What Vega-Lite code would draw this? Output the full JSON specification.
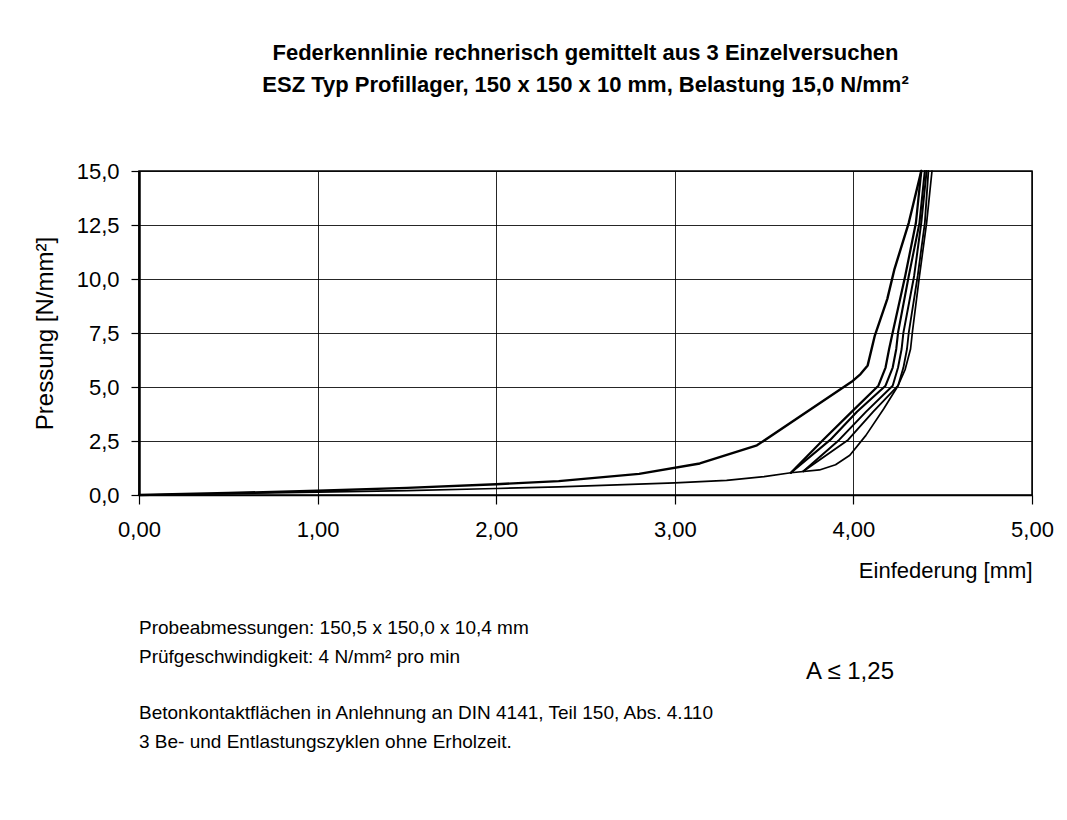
{
  "$schema": "https://vega.github.io/schema/vega-lite/v6.json",
  "background": "white",
  "padding": {"left": 32, "top": 41, "right": 5, "bottom": 5},
  "config": {
    "locale": {"number": {"decimal": ",", "thousands": ".", "grouping": [3], "currency": ["", " €"]}},
    "font": "Liberation Sans",
    "view": {"stroke": null}
  },
  "bounds": "flush",
  "spacing": 115,
  "vconcat": [
    {
      "width": 893,
      "height": 324,
      "title": {
        "text": ["Federkennlinie rechnerisch gemittelt aus 3 Einzelversuchen", "ESZ Typ Profillager, 150 x 150 x 10 mm, Belastung 15,0 N/mm²"],
        "fontSize": 22,
        "fontWeight": "bold",
        "font": "Liberation Sans",
        "lineHeight": 32,
        "anchor": "middle",
        "offset": 63,
        "color": "black"
      },
      "view": {"stroke": "black", "strokeWidth": 1.5},
      "data": {"values": [
        {"kurve": "Belastung 1", "i": 0, "einfederung": 0.0, "pressung": 0.0},
        {"kurve": "Belastung 1", "i": 1, "einfederung": 0.5, "pressung": 0.06},
        {"kurve": "Belastung 1", "i": 2, "einfederung": 1.0, "pressung": 0.13},
        {"kurve": "Belastung 1", "i": 3, "einfederung": 1.5, "pressung": 0.2},
        {"kurve": "Belastung 1", "i": 4, "einfederung": 2.0, "pressung": 0.3},
        {"kurve": "Belastung 1", "i": 5, "einfederung": 2.35, "pressung": 0.38},
        {"kurve": "Belastung 1", "i": 6, "einfederung": 3.0, "pressung": 0.56},
        {"kurve": "Belastung 1", "i": 7, "einfederung": 3.29, "pressung": 0.68},
        {"kurve": "Belastung 1", "i": 8, "einfederung": 3.5, "pressung": 0.85},
        {"kurve": "Belastung 1", "i": 9, "einfederung": 3.65, "pressung": 1.03},
        {"kurve": "Belastung 1", "i": 10, "einfederung": 3.81, "pressung": 1.16},
        {"kurve": "Belastung 1", "i": 11, "einfederung": 3.9, "pressung": 1.4},
        {"kurve": "Belastung 1", "i": 12, "einfederung": 3.98, "pressung": 1.84},
        {"kurve": "Belastung 1", "i": 13, "einfederung": 4.07, "pressung": 2.76},
        {"kurve": "Belastung 1", "i": 14, "einfederung": 4.17, "pressung": 3.99},
        {"kurve": "Belastung 1", "i": 15, "einfederung": 4.25, "pressung": 5.06},
        {"kurve": "Belastung 1", "i": 16, "einfederung": 4.29, "pressung": 5.82},
        {"kurve": "Belastung 1", "i": 17, "einfederung": 4.32, "pressung": 6.76},
        {"kurve": "Belastung 1", "i": 18, "einfederung": 4.33, "pressung": 7.52},
        {"kurve": "Belastung 1", "i": 19, "einfederung": 4.37, "pressung": 10.14},
        {"kurve": "Belastung 1", "i": 20, "einfederung": 4.41, "pressung": 12.6},
        {"kurve": "Belastung 1", "i": 21, "einfederung": 4.44, "pressung": 15.0},

        {"kurve": "Entlastung 1", "i": 0, "einfederung": 4.42, "pressung": 15.0},
        {"kurve": "Entlastung 1", "i": 1, "einfederung": 4.40, "pressung": 12.6},
        {"kurve": "Entlastung 1", "i": 2, "einfederung": 4.36, "pressung": 10.14},
        {"kurve": "Entlastung 1", "i": 3, "einfederung": 4.31, "pressung": 7.52},
        {"kurve": "Entlastung 1", "i": 4, "einfederung": 4.30, "pressung": 6.76},
        {"kurve": "Entlastung 1", "i": 5, "einfederung": 4.28, "pressung": 5.9},
        {"kurve": "Entlastung 1", "i": 6, "einfederung": 4.25, "pressung": 5.06},
        {"kurve": "Entlastung 1", "i": 7, "einfederung": 4.11, "pressung": 3.85},
        {"kurve": "Entlastung 1", "i": 8, "einfederung": 3.97, "pressung": 2.55},
        {"kurve": "Entlastung 1", "i": 9, "einfederung": 3.72, "pressung": 1.1},

        {"kurve": "Belastung 2", "i": 0, "einfederung": 3.72, "pressung": 1.1},
        {"kurve": "Belastung 2", "i": 1, "einfederung": 3.92, "pressung": 2.55},
        {"kurve": "Belastung 2", "i": 2, "einfederung": 4.07, "pressung": 3.85},
        {"kurve": "Belastung 2", "i": 3, "einfederung": 4.22, "pressung": 5.06},
        {"kurve": "Belastung 2", "i": 4, "einfederung": 4.25, "pressung": 5.9},
        {"kurve": "Belastung 2", "i": 5, "einfederung": 4.27, "pressung": 6.76},
        {"kurve": "Belastung 2", "i": 6, "einfederung": 4.28, "pressung": 7.52},
        {"kurve": "Belastung 2", "i": 7, "einfederung": 4.34, "pressung": 10.14},
        {"kurve": "Belastung 2", "i": 8, "einfederung": 4.38, "pressung": 12.6},
        {"kurve": "Belastung 2", "i": 9, "einfederung": 4.41, "pressung": 15.0},

        {"kurve": "Entlastung 2", "i": 0, "einfederung": 4.40, "pressung": 15.0},
        {"kurve": "Entlastung 2", "i": 1, "einfederung": 4.37, "pressung": 12.6},
        {"kurve": "Entlastung 2", "i": 2, "einfederung": 4.31, "pressung": 10.14},
        {"kurve": "Entlastung 2", "i": 3, "einfederung": 4.25, "pressung": 7.52},
        {"kurve": "Entlastung 2", "i": 4, "einfederung": 4.24, "pressung": 6.76},
        {"kurve": "Entlastung 2", "i": 5, "einfederung": 4.22, "pressung": 5.9},
        {"kurve": "Entlastung 2", "i": 6, "einfederung": 4.18, "pressung": 5.06},
        {"kurve": "Entlastung 2", "i": 7, "einfederung": 4.02, "pressung": 3.85},
        {"kurve": "Entlastung 2", "i": 8, "einfederung": 3.87, "pressung": 2.55},
        {"kurve": "Entlastung 2", "i": 9, "einfederung": 3.65, "pressung": 1.03},

        {"kurve": "Belastung 3", "i": 0, "einfederung": 3.65, "pressung": 1.03},
        {"kurve": "Belastung 3", "i": 1, "einfederung": 3.83, "pressung": 2.55},
        {"kurve": "Belastung 3", "i": 2, "einfederung": 3.99, "pressung": 3.85},
        {"kurve": "Belastung 3", "i": 3, "einfederung": 4.14, "pressung": 5.06},
        {"kurve": "Belastung 3", "i": 4, "einfederung": 4.18, "pressung": 5.9},
        {"kurve": "Belastung 3", "i": 5, "einfederung": 4.20, "pressung": 6.76},
        {"kurve": "Belastung 3", "i": 6, "einfederung": 4.22, "pressung": 7.52},
        {"kurve": "Belastung 3", "i": 7, "einfederung": 4.29, "pressung": 10.14},
        {"kurve": "Belastung 3", "i": 8, "einfederung": 4.35, "pressung": 12.6},
        {"kurve": "Belastung 3", "i": 9, "einfederung": 4.38, "pressung": 15.0},

        {"kurve": "Entlastung 3", "i": 0, "einfederung": 4.38, "pressung": 15.0},
        {"kurve": "Entlastung 3", "i": 1, "einfederung": 4.31, "pressung": 12.6},
        {"kurve": "Entlastung 3", "i": 2, "einfederung": 4.23, "pressung": 10.46},
        {"kurve": "Entlastung 3", "i": 3, "einfederung": 4.19, "pressung": 9.08},
        {"kurve": "Entlastung 3", "i": 4, "einfederung": 4.12, "pressung": 7.38},
        {"kurve": "Entlastung 3", "i": 5, "einfederung": 4.08, "pressung": 6.0},
        {"kurve": "Entlastung 3", "i": 6, "einfederung": 4.04, "pressung": 5.6},
        {"kurve": "Entlastung 3", "i": 7, "einfederung": 3.99, "pressung": 5.24},
        {"kurve": "Entlastung 3", "i": 8, "einfederung": 3.46, "pressung": 2.3},
        {"kurve": "Entlastung 3", "i": 9, "einfederung": 3.14, "pressung": 1.46},
        {"kurve": "Entlastung 3", "i": 10, "einfederung": 2.8, "pressung": 0.98},
        {"kurve": "Entlastung 3", "i": 11, "einfederung": 2.35, "pressung": 0.64},
        {"kurve": "Entlastung 3", "i": 12, "einfederung": 2.0, "pressung": 0.5},
        {"kurve": "Entlastung 3", "i": 13, "einfederung": 1.5, "pressung": 0.33},
        {"kurve": "Entlastung 3", "i": 14, "einfederung": 1.0, "pressung": 0.2},
        {"kurve": "Entlastung 3", "i": 15, "einfederung": 0.5, "pressung": 0.09},
        {"kurve": "Entlastung 3", "i": 16, "einfederung": 0.0, "pressung": 0.0}
      ]},
      "mark": {"type": "line", "color": "black", "strokeJoin": "round", "strokeCap": "round"},
      "encoding": {
        "x": {
          "field": "einfederung",
          "type": "quantitative",
          "scale": {"domain": [0, 5], "nice": false, "zero": false},
          "axis": {
            "values": [0, 1, 2, 3, 4, 5],
            "format": ".2f",
            "grid": true,
            "gridColor": "black",
            "gridWidth": 1,
            "gridOpacity": 0.85,
            "domainColor": "black",
            "domainWidth": 1.5,
            "tickColor": "black",
            "tickSize": 9,
            "tickWidth": 1.2,
            "labelFontSize": 22,
            "labelColor": "black",
            "labelPadding": 15,
            "labelFlush": false,
            "title": "Einfederung [mm]",
            "titleFontSize": 22,
            "titleFontWeight": "normal",
            "titleColor": "black",
            "titleAnchor": "end",
            "titlePadding": 20
          }
        },
        "y": {
          "field": "pressung",
          "type": "quantitative",
          "scale": {"domain": [0, 15], "nice": false},
          "axis": {
            "values": [0, 2.5, 5, 7.5, 10, 12.5, 15],
            "format": ".1f",
            "grid": true,
            "gridColor": "black",
            "gridWidth": 1,
            "gridOpacity": 0.85,
            "domainColor": "black",
            "domainWidth": 2.5,
            "tickColor": "black",
            "tickSize": 8,
            "tickWidth": 1.2,
            "labelFontSize": 22,
            "labelColor": "black",
            "labelPadding": 12,
            "title": "Pressung [N/mm²]",
            "titleFontSize": 24,
            "titleFontWeight": "normal",
            "titleColor": "black",
            "titlePadding": 19
          }
        },
        "detail": {"field": "kurve", "type": "nominal"},
        "order": {"field": "i", "type": "quantitative"},
        "strokeWidth": {
          "field": "kurve",
          "type": "nominal",
          "scale": {
            "domain": ["Belastung 1", "Entlastung 1", "Belastung 2", "Entlastung 2", "Belastung 3", "Entlastung 3"],
            "range": [1.7, 2.4, 2.4, 2.4, 2.4, 3.3]
          },
          "legend": null
        }
      }
    },
    {
      "width": 893,
      "height": 150,
      "view": {"stroke": null},
      "layer": [
        {
          "data": {"values": [
            {"zeile": 0, "text": "Probeabmessungen: 150,5 x 150,0 x 10,4 mm"},
            {"zeile": 1, "text": "Prüfgeschwindigkeit: 4 N/mm²  pro min"},
            {"zeile": 3, "text": "Betonkontaktflächen in Anlehnung an DIN 4141, Teil 150, Abs. 4.110"},
            {"zeile": 4, "text": "3 Be- und Entlastungszyklen ohne Erholzeit."}
          ]},
          "mark": {"type": "text", "align": "left", "baseline": "middle", "fontSize": 19, "font": "Liberation Sans", "color": "black"},
          "encoding": {
            "x": {"datum": 0, "type": "quantitative", "scale": {"domain": [0, 5], "nice": false}, "axis": null},
            "y": {"field": "zeile", "type": "quantitative", "scale": {"domain": [-0.632, 4.632], "reverse": true, "nice": false, "zero": false}, "axis": null},
            "text": {"field": "text", "type": "nominal"}
          }
        },
        {
          "data": {"values": [{"text": "A ≤ 1,25"}]},
          "mark": {"type": "text", "align": "left", "baseline": "middle", "fontSize": 24, "font": "Liberation Sans", "color": "black"},
          "encoding": {
            "x": {"datum": 3.735, "type": "quantitative"},
            "y": {"datum": 1.54, "type": "quantitative"},
            "text": {"field": "text", "type": "nominal"}
          }
        }
      ]
    }
  ]
}
